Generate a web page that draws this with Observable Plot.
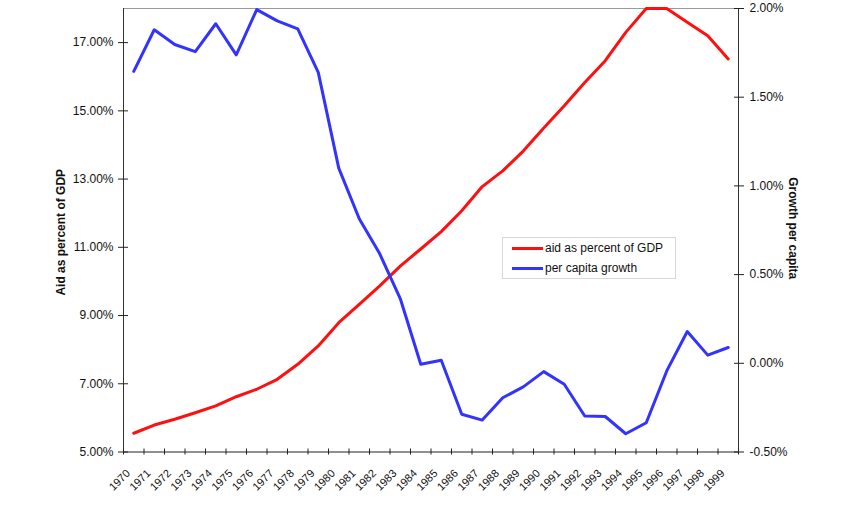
<!DOCTYPE html>
<html>
<head>
<meta charset="utf-8">
<script src="https://cdn.jsdelivr.net/npm/d3@7"></script>
<script src="https://cdn.jsdelivr.net/npm/@observablehq/plot@0.6"></script>
<style>
  body { margin: 0; background: #fff; font-family: "Liberation Sans", Arial, sans-serif; }
  #wrap { position: relative; width: 850px; height: 507px; }
  #legend { position: absolute; left: 502px; top: 237px; width: 172px; height: 40px;
    border: 1px solid #d8d8d8; background: #fff; font-size: 12px; color: #111; }
  .row { position: absolute; left: 9px; height: 14px; display: flex; align-items: center; }
  .sw { width: 31px; height: 3px; margin-right: 2px; }
</style>
</head>
<body>
<div id="wrap">
  <div id="legend">
    <div class="row" style="top:3px"><div class="sw" style="background:#ff1010"></div><span>aid as percent of GDP</span></div>
    <div class="row" style="top:23px"><div class="sw" style="background:#3333ff"></div><span>per capita growth</span></div>
  </div>
</div>
<script>
const years = d3.range(1970, 2000);
const aidPct = [5.55, 5.79, 5.96, 6.15, 6.35, 6.62, 6.84, 7.13, 7.57, 8.11,
                8.79, 9.33, 9.87, 10.45, 10.95, 11.46, 12.07, 12.78, 13.24, 13.82,
                14.50, 15.15, 15.83, 16.47, 17.30, 18.00, 18.00, 17.60, 17.20, 16.52];
const growthPct = [1.646, 1.880, 1.797, 1.757, 1.914, 1.739, 1.994, 1.930, 1.885, 1.640,
                   1.100, 0.815, 0.617, 0.365, -0.005, 0.017, -0.287, -0.320, -0.194, -0.133,
                   -0.047, -0.118, -0.297, -0.300, -0.397, -0.335, -0.043, 0.179, 0.046, 0.089];
const aidTicks = [5, 7, 9, 11, 13, 15, 17];
const growthTicks = [-0.5, 0, 0.5, 1, 1.5, 2];
const aidDomain = [5, 18];
const growthDomain = [-0.5, 2];

// map right-axis (growth) values onto left-axis units
const g2a = g => aidDomain[0] + (g - growthDomain[0]) * (aidDomain[1] - aidDomain[0]) / (growthDomain[1] - growthDomain[0]);

const aidData = years.map((y, i) => ({year: y, v: aidPct[i]}));
const growthData = years.map((y, i) => ({year: y, v: g2a(growthPct[i])}));
const bounds = d3.range(1969.5, 2000, 1);
const fmt = v => v.toFixed(2) + "%";

const chart = Plot.plot({
  width: 850,
  height: 507,
  marginLeft: 123,
  marginRight: 112,
  marginTop: 8,
  marginBottom: 55.5,
  style: {fontFamily: "'Liberation Sans', Arial, sans-serif", fontSize: "12px", color: "#111", background: "transparent"},
  x: {domain: [1969.5, 1999.5], axis: null},
  y: {domain: aidDomain, axis: null},
  marks: [
    Plot.ruleY([aidDomain[1]], {stroke: "#9a9a9a", strokeWidth: 1}),
    Plot.ruleX([1969.5], {stroke: "#333"}),
    Plot.ruleX([1999.5], {stroke: "#333"}),
    Plot.ruleY([aidDomain[0]], {stroke: "#222"}),
    // left axis: crossing ticks + labels
    Plot.axisY({ticks: aidTicks, label: null, tickSize: 10, dx: 5, tickFormat: () => "", stroke: "#222"}),
    Plot.axisY({ticks: aidTicks, label: null, tickSize: 0, tickPadding: 10, tickFormat: fmt, fill: "#111", fontSize: 12}),
    // right axis
    Plot.axisY({anchor: "right", label: null, ticks: growthTicks.map(g2a), tickSize: 10, dx: -5, tickFormat: () => "", stroke: "#222"}),
    Plot.axisY({anchor: "right", label: null, ticks: growthTicks.map(g2a), tickSize: 0, tickPadding: 11,
      tickFormat: (v, i) => fmt(growthTicks[i]), fill: "#111", fontSize: 12}),
    // x axis ticks at band boundaries
    Plot.axisX({ticks: bounds, label: null, tickSize: 6, dy: -3, tickFormat: () => "", stroke: "#222"}),
    Plot.text(years, {x: d => d, text: d => String(d), frameAnchor: "bottom", rotate: -45,
      textAnchor: "end", lineAnchor: "middle", dx: -5.5, dy: 19.5, fontSize: 11, fill: "#111"}),
    // axis titles
    Plot.text(["Aid as percent of GDP"], {frameAnchor: "left", textAnchor: "middle", rotate: -90, dx: -62, dy: 2,
      fontWeight: "bold", fontSize: 12, fill: "#111"}),
    Plot.text(["Growth per capita"], {frameAnchor: "right", textAnchor: "middle", rotate: 90, dx: 54, dy: -2,
      fontWeight: "bold", fontSize: 12, fill: "#111"}),
    // series
    Plot.line(aidData, {x: "year", y: "v", stroke: "#ff1010", strokeWidth: 3}),
    Plot.line(growthData, {x: "year", y: "v", stroke: "#3333ff", strokeWidth: 3})
  ]
});
document.getElementById("wrap").prepend(chart);
</script>
</body>
</html>
